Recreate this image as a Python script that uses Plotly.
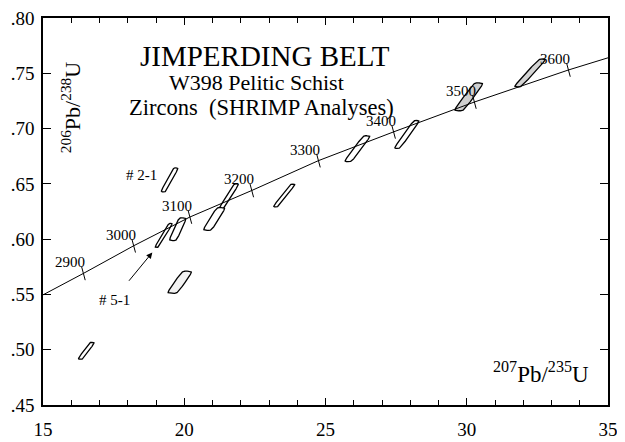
import numpy as np
import plotly.graph_objects as go

# ---- data ----
# concordia age ticks (Ma) and their ratio positions
ages = [2900, 3000, 3100, 3200, 3300, 3400, 3500, 3600]
conc_x = [16.43, 18.21, 20.20, 22.39, 24.75, 27.41, 30.27, 33.60]
conc_y = [0.569, 0.594, 0.620, 0.644, 0.671, 0.697, 0.724, 0.753]
# ends of the drawn concordia line
conc_start = (15.0, 0.5496)
conc_end = (35.0, 0.764)

# SHRIMP analyses: centre, half-extent along the error shape, horizontal half-width
ell_x = [16.53, 19.48, 21.57, 21.06, 19.77, 19.27, 19.84, 23.54, 26.13, 27.88, 30.07, 32.24]
ell_y = [0.499, 0.6536, 0.6383, 0.6183, 0.609, 0.6034, 0.561, 0.6395, 0.6818, 0.6947, 0.7287, 0.7503]
ell_dx = [0.21, 0.226, 0.28, 0.25, 0.18, 0.25, 0.27, 0.31, 0.34, 0.35, 0.36, 0.445]
ell_dy = [0.0076, 0.0108, 0.0117, 0.0103, 0.0103, 0.0108, 0.0100, 0.0103, 0.0117, 0.0126, 0.0126, 0.0126]
ell_w = [0.092, 0.092, 0.092, 0.16, 0.138, 0.07, 0.19, 0.092, 0.138, 0.113, 0.18, 0.138]

x_ticks = [15, 20, 25, 30, 35]
x_labels = ["15", "20", "25", "30", "35"]
y_ticks = [0.45, 0.50, 0.55, 0.60, 0.65, 0.70, 0.75, 0.80]
y_labels = [".45", ".50", ".55", ".60", ".65", ".70", ".75", ".80"]

# styling
fills = ["white"] * 10 + ["#cfcfcf", "#d4d4d4"]
fills[6] = "#f2f2f2"
SERIF = "Liberation Serif"

fig = go.Figure()

# error shapes (rounded parallelograms built from centre / extents)
t = np.linspace(0, 2 * np.pi, 121)
c, s = np.cos(t), np.sin(t)
p = 2.0 / 6.0
a = np.sign(c) * np.abs(c) ** p
b = np.sign(s) * np.abs(s) ** p
for i in range(len(ell_x)):
    xs = ell_x[i] + ell_dx[i] * a + ell_w[i] * b
    ys = ell_y[i] + ell_dy[i] * a
    fig.add_trace(go.Scatter(x=xs, y=ys, mode="lines", fill="toself",
                             fillcolor=fills[i],
                             line=dict(color="black", width=1.3),
                             hoverinfo="skip"))

# concordia
curve_x = [conc_start[0]] + conc_x + [conc_end[0]]
curve_y = [conc_start[1]] + conc_y + [conc_end[1]]
fig.add_trace(go.Scatter(x=curve_x, y=curve_y, mode="lines",
                         line=dict(color="black", width=1), hoverinfo="skip"))
fig.add_trace(go.Scatter(x=conc_x, y=conc_y, mode="markers",
                         marker=dict(symbol="line-ns", size=10, angle=-15,
                                     line=dict(color="black", width=1)),
                         hoverinfo="skip"))

def txt(size):
    return dict(family=SERIF, size=size, color="black")

annotations = []
for age, xx, yy in zip(ages, conc_x, conc_y):
    annotations.append(dict(x=xx, y=yy, xref="x", yref="y", text=str(age),
                            showarrow=False, xshift=-13, yshift=11,
                            xanchor="center", yanchor="middle", font=txt(15)))

annotations += [
    dict(x=18.49, y=0.6577, xref="x", yref="y", text="# 2-1", showarrow=False,
         xanchor="center", yanchor="middle", font=txt(15)),
    dict(x=17.53, y=0.545, xref="x", yref="y", text="# 5-1", showarrow=False,
         xanchor="center", yanchor="middle", font=txt(15)),
    dict(x=18.87, y=0.588, ax=18.0, ay=0.561, xref="x", yref="y", axref="x", ayref="y",
         text="", showarrow=True, arrowhead=2, arrowsize=1.2, arrowwidth=1,
         arrowcolor="black"),
    dict(x=0.393, y=0.903, xref="paper", yref="paper", text="JIMPERDING BELT",
         showarrow=False, xanchor="center", yanchor="middle", font=txt(29)),
    dict(x=0.377, y=0.834, xref="paper", yref="paper", text="W398 Pelitic Schist",
         showarrow=False, xanchor="center", yanchor="middle", font=txt(22)),
    dict(x=0.386, y=0.769, xref="paper", yref="paper",
         text="Zircons&nbsp; (SHRIMP Analyses)",
         showarrow=False, xanchor="center", yanchor="middle", font=txt(22.5)),
    dict(x=0.05, y=0.77, xref="paper", yref="paper",
         text="<sup>206</sup>Pb/<sup>238</sup>U", textangle=-90,
         showarrow=False, xanchor="center", yanchor="middle", font=txt(22)),
    dict(x=0.881, y=0.084, xref="paper", yref="paper",
         text="<sup>207</sup>Pb/<sup>235</sup>U",
         showarrow=False, xanchor="center", yanchor="middle", font=txt(23)),
]

# the page body adds an 8 px offset; the figure is sized to fit the window
fig.update_layout(
    width=617, height=434,
    margin=dict(l=35, r=17, t=10, b=37, autoexpand=False),
    paper_bgcolor="white", plot_bgcolor="white",
    showlegend=False,
    annotations=annotations,
    xaxis=dict(range=[15, 35], tickmode="array", tickvals=x_ticks, ticktext=x_labels,
               ticks="inside", ticklen=7, tickwidth=1, tickcolor="black",
               showline=True, linecolor="black", linewidth=1.5, mirror="ticks",
               showgrid=False, zeroline=False, ticklabelstandoff=6, automargin=False,
               ticklabeloverflow="allow",
               minor=dict(tickmode="linear", tick0=15, dtick=1, ticks="inside",
                          ticklen=5, tickwidth=1, tickcolor="black", showgrid=False),
               tickfont=txt(19)),
    yaxis=dict(range=[0.45, 0.80], tickmode="array", tickvals=y_ticks, ticktext=y_labels,
               ticks="inside", ticklen=8, tickwidth=1, tickcolor="black",
               showline=True, linecolor="black", linewidth=1.5, mirror="ticks",
               showgrid=False, zeroline=False, ticklabelstandoff=3, automargin=False,
               ticklabeloverflow="allow",
               tickfont=txt(19)),
)

fig.write_html("out.html")
